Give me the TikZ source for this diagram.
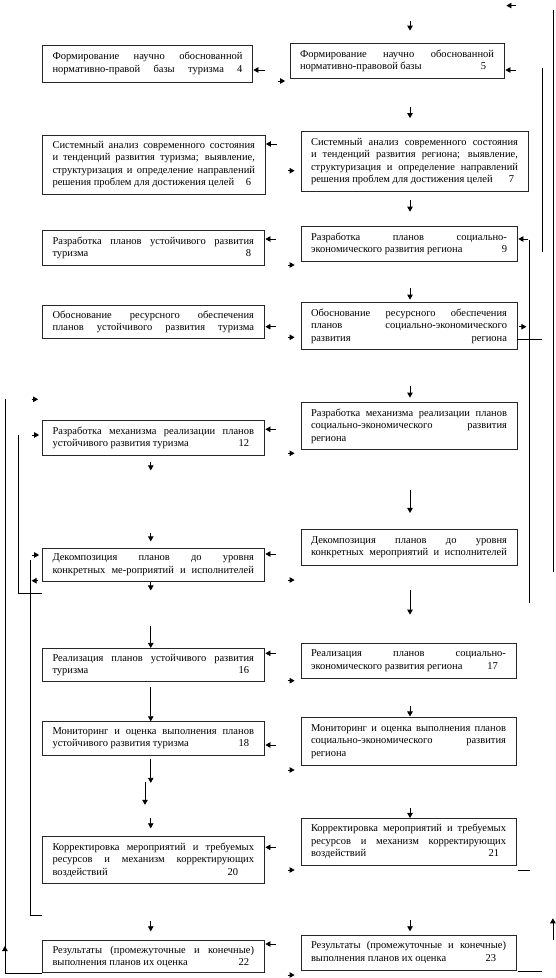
\documentclass[tikz,border=0pt]{standalone}
\usepackage{fontspec}
\setmainfont{Liberation Serif}
\usetikzlibrary{arrows.meta}
\newcommand\jl[1]{\noindent\hbox to\hsize{\spaceskip=0.25em plus 1fil minus 0.12em\relax #1}\par}
\newcommand\bx[6]{\node[box,text width=#4pt,minimum height=#5pt] (#1) at (#2,#3) {#6};}
\begin{document}
\begin{tikzpicture}[x=1pt,y=-1pt,
  box/.style={draw=black!85,line width=0.8pt,inner xsep=10pt,inner ysep=0pt,
    font=\fontsize{10.5}{12.5}\selectfont,anchor=center},
  arr/.style={-{Triangle[length=5pt,width=5.5pt]},line width=0.8pt,black},
  wire/.style={line width=0.8pt,black}]
\useasboundingbox (0,0) rectangle (556,978);
% left column
\bx{L1}{147.5}{63.5}{190}{37}{\jl{Формирование научно обоснованной}\jl{нормативно-правой базы туризма 4}}
\bx{L2}{153.75}{164.7}{202.5}{59.3}{\jl{Системный анализ современного состояния}\jl{и тенденций развития туризма; выявление,}\jl{структуризация и определение направлений}\jl{решения проблем для достижения целей\hfill 6\hspace{4pt}}}
\bx{L3}{153.25}{247.8}{201.5}{34.3}{\jl{Разработка планов устойчивого развития}\jl{туризма\hfill 8\hspace{3pt}}}
\bx{L4}{153.25}{321.7}{201.5}{33.3}{\jl{Обоснование ресурсного обеспечения}\jl{планов устойчивого развития туризма}}
\bx{L5}{153.25}{437.8}{201.5}{34.3}{\jl{Разработка механизма реализации планов}\jl{устойчивого развития туризма\hfill 12\hspace{5pt}}}
\bx{L6}{153.25}{564.8}{201.5}{33.7}{\jl{Декомпозиция планов до уровня}\jl{конкретных ме-роприятий и исполнителей}}
\bx{L7}{153.25}{665}{201.5}{33.4}{\jl{Реализация планов устойчивого развития}\jl{туризма\hfill 16\hspace{5pt}}}
\bx{L8}{153.25}{738.3}{201.5}{33.3}{\jl{Мониторинг и оценка выполнения планов}\jl{устойчивого развития туризма\hfill 18\hspace{5pt}}}
\bx{L9}{153.25}{860}{201.5}{46.6}{\jl{Корректировка мероприятий и требуемых}\jl{ресурсов и механизм корректирующих}\jl{воздействий\hfill 20\hspace{16pt}}}
\bx{L10}{153.25}{956.7}{201.5}{32}{\jl{Результаты (промежуточные и конечные)}\jl{выполнения планов их оценка\hfill 22\hspace{5pt}}}
% right column
\bx{R1}{397}{60.8}{194}{35}{\jl{Формирование научно обоснованной}\jl{нормативно-правовой базы\hfill 5\hspace{8pt}}}
\bx{R2}{414.5}{161.7}{207}{60}{\jl{Системный анализ современного состояния}\jl{и тенденций развития региона; выявление,}\jl{структуризация и определение направлений}\jl{решения проблем для достижения целей\hfill 7\hspace{4pt}}}
\bx{R3}{409}{243.8}{196}{34.3}{\jl{Разработка планов социально-}\jl{экономического развития региона\hfill 9}}
\bx{R4}{409}{326}{196}{46.6}{\jl{Обоснование ресурсного обеспечения}\jl{планов социально-экономического}\jl{развития региона}}
\bx{R5}{409}{426}{196}{46.6}{\jl{Разработка механизма реализации планов}\jl{социально-экономического развития}\jl{региона\hfill}}
\bx{R6}{409}{547.2}{196}{35.7}{\jl{Декомпозиция планов до уровня}\jl{конкретных мероприятий и исполнителей}}
\bx{R7}{408.5}{660.8}{195}{35}{\jl{Реализация планов социально-}\jl{экономического развития региона\hfill 17\hspace{8pt}}}
\bx{R8}{408.5}{741.2}{195}{47.7}{\jl{Мониторинг и оценка выполнения планов}\jl{социально-экономического развития}\jl{региона\hfill}}
\bx{R9}{408.5}{841.7}{195}{46.7}{\jl{Корректировка мероприятий и требуемых}\jl{ресурсов и механизм корректирующих}\jl{воздействий\hfill 21\hspace{7pt}}}
\bx{R10}{408.5}{952.5}{195}{35}{\jl{Результаты (промежуточные и конечные)}\jl{выполнения планов их оценка\hfill 23\hspace{10pt}}}
% right column down arrows
\draw[arr] ([shift={(13,-22.3)}]R1.north) -- ([shift={(13,-12.3)}]R1.north);
\draw[arr] ([shift={(-4.5,-24.7)}]R2.north) -- ([shift={(-4.5,-13.2)}]R2.north);
\draw[arr] ([shift={(1,-26.6)}]R3.north) -- ([shift={(1,-14.6)}]R3.north);
\draw[arr] ([shift={(1,-14.7)}]R4.north) -- ([shift={(1,-2.7)}]R4.north);
\draw[arr] ([shift={(1,-16.7)}]R5.north) -- ([shift={(1,-4.7)}]R5.north);
\draw[arr] ([shift={(1,-39.3)}]R6.north) -- ([shift={(1,-16)}]R6.north);
\draw[arr] ([shift={(1.5,-53.3)}]R7.north) -- ([shift={(1.5,-28.3)}]R7.north);
\draw[arr] ([shift={(1.5,-10.5)}]R8.north) -- ([shift={(1.5,-0.5)}]R8.north);
\draw[arr] ([shift={(1.5,-10)}]R9.north) -- ([shift={(1.5,0)}]R9.north);
\draw[arr] ([shift={(1.5,-15)}]R10.north) -- ([shift={(1.5,-3.3)}]R10.north);
% left column down arrows
\draw[arr] ([shift={(-2.5,6.7)}]L5.south) -- ([shift={(-2.5,15)}]L5.south);
\draw[arr] ([shift={(-2.5,-14.6)}]L6.north) -- ([shift={(-2.5,-6.2)}]L6.north);
\draw[arr] ([shift={(-2.5,0)}]L6.south) -- ([shift={(-2.5,8.4)}]L6.south);
\draw[arr] ([shift={(-2.5,-21.6)}]L7.north) -- ([shift={(-2.5,0)}]L7.north);
\draw[arr] ([shift={(-2.5,-34.3)}]L8.north) -- ([shift={(-2.5,0)}]L8.north);
\draw[arr] ([shift={(-2.5,3.3)}]L8.south) -- ([shift={(-2.5,27.5)}]L8.south);
\draw[arr] ([shift={(-8.25,-54)}]L9.north) -- ([shift={(-8.25,-31.5)}]L9.north);
\draw[arr] ([shift={(-2.5,-18)}]L9.north) -- ([shift={(-2.5,-8)}]L9.north);
\draw[arr] ([shift={(-2.5,-19)}]L10.north) -- ([shift={(-2.5,-9)}]L10.north);
% arrows into left boxes from the right
\draw[arr] ([shift={(12.5,6.5)}]L1.east) -- ([shift={(0.5,6.5)}]L1.east);
\draw[arr] ([shift={(11.5,-20.7)}]L2.east) -- ([shift={(0.5,-20.7)}]L2.east);
\draw[arr] ([shift={(12,-8.8)}]L3.east) -- ([shift={(1,-8.8)}]L3.east);
\draw[arr] ([shift={(12,5)}]L4.east) -- ([shift={(1,5)}]L4.east);
\draw[arr] ([shift={(12,-8.5)}]L5.east) -- ([shift={(1,-8.5)}]L5.east);
\draw[arr] ([shift={(12,-10.8)}]L6.east) -- ([shift={(1,-10.8)}]L6.east);
\draw[arr] ([shift={(12,-11.7)}]L7.east) -- ([shift={(1,-11.7)}]L7.east);
\draw[arr] ([shift={(12,6.7)}]L8.east) -- ([shift={(1,6.7)}]L8.east);
\draw[arr] ([shift={(12,-12.7)}]L9.east) -- ([shift={(1,-12.7)}]L9.east);
\draw[arr] ([shift={(12,-12.7)}]L10.east) -- ([shift={(1,-12.7)}]L10.east);
% small arrows toward right boxes
\draw[arr] ([shift={(-12,20.2)}]R1.west) -- ([shift={(-4.5,20.2)}]R1.west);
\draw[arr] ([shift={(-13,9)}]R2.west) -- ([shift={(-6,9)}]R2.west);
\draw[arr] ([shift={(-13,21.2)}]R3.west) -- ([shift={(-6,21.2)}]R3.west);
\draw[arr] ([shift={(-13,11.3)}]R4.west) -- ([shift={(-6,11.3)}]R4.west);
\draw[arr] ([shift={(-13,27.3)}]R5.west) -- ([shift={(-6,27.3)}]R5.west);
\draw[arr] ([shift={(-13,32.8)}]R6.west) -- ([shift={(-6,32.8)}]R6.west);
\draw[arr] ([shift={(-13,19.9)}]R7.west) -- ([shift={(-6,19.9)}]R7.west);
\draw[arr] ([shift={(-13,28.8)}]R8.west) -- ([shift={(-6,28.8)}]R8.west);
\draw[arr] ([shift={(-13,28.3)}]R9.west) -- ([shift={(-6,28.3)}]R9.west);
\draw[arr] ([shift={(-13,22.5)}]R10.west) -- ([shift={(-6,22.5)}]R10.west);
% right side
\draw[arr] ([shift={(12,-37.3)}]R1.north east) -- ([shift={(2,-37.3)}]R1.north east);
\draw[arr] ([shift={(12,9.2)}]R1.east) -- ([shift={(1,9.2)}]R1.east);
\draw[arr] ([shift={(11,-4.8)}]R3.east) -- ([shift={(1,-4.8)}]R3.east);
\draw[arr] ([shift={(2,0.7)}]R4.east) -- ([shift={(9,0.7)}]R4.east);
\draw[wire] ([shift={(49,-33.3)}]R1.north east) -- ([shift={(36,24.5)}]R6.east);
\draw[wire] ([shift={(38,7.5)}]R1.east) -- ([shift={(25,7.9)}]R3.east);
\draw[wire] ([shift={(12.3,-3.8)}]R3.east) -- ([shift={(12.3,55.8)}]R6.east);
\draw[wire] ([shift={(0,13.3)}]R4.east) -- ([shift={(25,13.3)}]R4.east);
\draw[wire] ([shift={(2,28.3)}]R9.east) -- ([shift={(14,28.3)}]R9.east);
\draw[wire] ([shift={(2,19.2)}]R10.east) -- ([shift={(26,19.2)}]R10.east);
\draw[arr] ([shift={(36.5,-12.5)}]R10.east) -- ([shift={(36.5,-34.2)}]R10.east);
% left side
\draw[arr] ([shift={(-10.5,-38.5)}]L5.west) -- ([shift={(-4,-38.5)}]L5.west);
\draw[arr] ([shift={(-10.5,-2.8)}]L5.west) -- ([shift={(-3,-2.8)}]L5.west);
\draw[arr] ([shift={(-10.5,-9.8)}]L6.west) -- ([shift={(-3,-9.8)}]L6.west);
\draw[arr] ([shift={(-4,15.9)}]L6.west) -- ([shift={(-10.5,15.9)}]L6.west);
\draw[wire] ([shift={(-37.2,-38.5)}]L5.west) -- ([shift={(-37.2,0)}]L10.south west) -- (L10.south west);
\draw[arr] ([shift={(-37.2,1.3)}]L10.west) -- ([shift={(-37.2,-10.7)}]L10.west);
\draw[wire] ([shift={(-24.2,-2.8)}]L5.west) -- ([shift={(-24.2,11)}]L6.south west) -- ([shift={(0,11)}]L6.south west);
\draw[wire] ([shift={(-11.8,-4.8)}]L6.west) -- ([shift={(-11.8,31.7)}]L9.south west) -- ([shift={(0,31.7)}]L9.south west);
\end{tikzpicture}
\end{document}
